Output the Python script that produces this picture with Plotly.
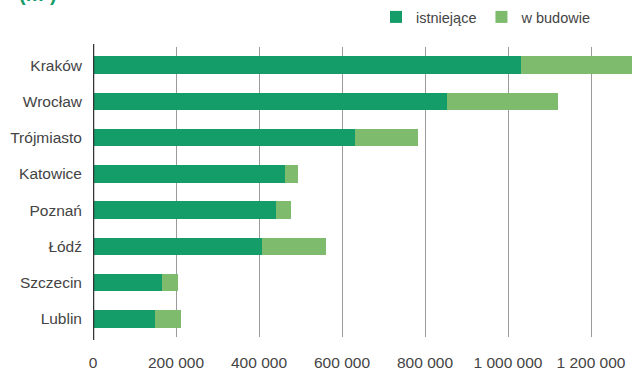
import plotly.graph_objects as go

cities = ["Kraków", "Wrocław", "Trójmiasto", "Katowice", "Poznań", "Łódź", "Szczecin", "Lublin"]
existing = [1031000, 853000, 631000, 463000, 441000, 407000, 167000, 149000]
under_construction = [267000, 268000, 152000, 30000, 35000, 155000, 39000, 62000]
tick_vals = [0, 200000, 400000, 600000, 800000, 1000000, 1200000]
tick_text = ["0", "200 000", "400 000", "600 000", "800 000", "1 000 000", "1 200 000"]

DARK = "#149D69"
LIGHT = "#7FBB6D"
TXT = "#444444"
FONT = "Liberation Sans"

fig = go.Figure()
fig.add_trace(go.Bar(y=cities, x=existing, orientation="h", name="istniejące",
                     marker=dict(color=DARK, line=dict(width=0)), width=0.48))
fig.add_trace(go.Bar(y=cities, x=under_construction, orientation="h", name="w budowie",
                     marker=dict(color=LIGHT, line=dict(width=0)), width=0.48))

W, H = 635, 376
L, R, T, B = 93, 0, 47, 376 - 337
pw, ph = W - L - R, H - T - B

fig.update_layout(
    barmode="stack",
    width=W, height=H,
    margin=dict(l=L, r=R, t=T, b=B, autoexpand=False),
    paper_bgcolor="white", plot_bgcolor="white",
    font=dict(family=FONT, size=15.5, color=TXT),
    showlegend=True,
    legend=dict(orientation="h", x=(376 - L) / pw, y=1 + (T - 17) / ph,
                xanchor="left", yanchor="middle", font=dict(size=14.5, color=TXT),
                itemwidth=30, traceorder="normal"),
    xaxis=dict(range=[0, 1306000], tickvals=tick_vals, ticktext=tick_text,
               showgrid=True, gridcolor="#9a9a9a", gridwidth=1,
               zeroline=False, showline=False, ticks="", ticklabelstandoff=14,
               tickfont=dict(size=15.5, color=TXT)),
    yaxis=dict(autorange="reversed", showgrid=False, zeroline=False,
               showline=False, ticks="", ticklabelstandoff=10,
               tickfont=dict(size=15.5, color=TXT)),
    shapes=[dict(type="line", xref="x", yref="paper", x0=0, x1=0, y0=-0.01, y1=1.01,
                 line=dict(color="#333333", width=2.5))],
    annotations=[dict(text="<b>(m²)</b>", xref="paper", yref="paper",
                      x=(17 - L) / pw, y=1 + (T - 7) / ph, xanchor="left", yanchor="bottom",
                      showarrow=False, font=dict(size=20, color=DARK, family=FONT))],
)

fig.write_html("out.html", config={"displayModeBar": False},
               post_script="document.body.style.margin='0';document.body.style.overflow='hidden';")
